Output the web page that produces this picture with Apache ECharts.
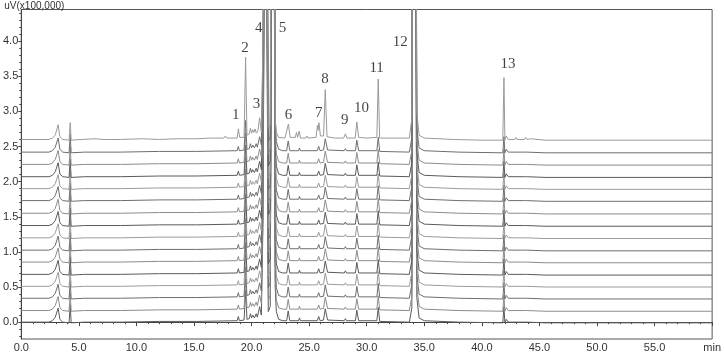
<!DOCTYPE html>
<html>
<head>
<meta charset="utf-8">
<script src="https://cdn.jsdelivr.net/npm/echarts@6.0.0/dist/echarts.min.js"></script>
<style>
  html, body { margin: 0; padding: 0; background: #fff; }
  #chromPic { width: 724px; height: 353px; }
</style>
</head>
<body>
<div id="chromPic"></div>
<script>
// tick labels
var yTicks = [0, 0.5, 1.0, 1.5, 2.0, 2.5, 3.0, 3.5, 4.0];
var yMinorTicks = [-0.2, -0.1, 0.1, 0.2, 0.3, 0.4, 0.6, 0.7, 0.8, 0.9, 1.1, 1.2, 1.3, 1.4,
  1.6, 1.7, 1.8, 1.9, 2.1, 2.2, 2.3, 2.4, 2.6, 2.7, 2.8, 2.9, 3.1, 3.2, 3.3, 3.4,
  3.6, 3.7, 3.8, 3.9, 4.1, 4.2, 4.3, 4.4];

// baseline of each run (x100,000 uV), bottom to top
var offsets = [0, 0.165, 0.34, 0.51, 0.68, 0.855, 1.025, 1.2, 1.375, 1.55, 1.73, 1.9, 2.07, 2.245, 2.42, 2.6];
var lineColors = ['#5a5a5a', '#8c8c8c', '#6e6e6e', '#9a9a9a'];

// reference run (top trace): [min, signal above baseline]
var refProfile = [
  [0, 0.0], [2.4, 0.0], [2.7, 0.02], [2.95, 0.06], [3.05, 0.04], [3.2, 0.21], [3.35, 0.04], [3.6, 0.0],
  [4.15, -0.01], [4.25, 0.24], [4.33, -0.01], [5.2, 0.0], [6.4, 0.01], [7.2, 0.0], [8.4, 0.0], [8.5, 0.02],
  [8.6, 0.0], [10.5, 0.01], [12.0, 0.0], [13.5, 0.01], [15.0, 0.01], [15.1, 0.03], [15.25, 0.01],
  [16.4, 0.02], [16.55, 0.04], [16.7, 0.02], [17.6, 0.02], [17.72, 0.05], [17.85, 0.02],
  [18.75, 0.02], [18.85, 0.15], [18.97, 0.03], [19.35, 0.03], [19.48, 1.17], [19.6, 0.06],
  [19.8, 0.08], [19.9, 0.16], [20.0, 0.09], [20.1, 0.14], [20.2, 0.1], [20.3, 0.15], [20.42, 0.09],
  [20.55, 0.12], [20.7, 0.31], [20.85, 0.1], [21.0, 1.5], [21.12, 6], [21.3, 6], [21.45, 0.16],
  [21.62, 0.2], [21.76, 6], [21.96, 6], [22.05, 0.3], [22.15, 0.1], [22.35, 0.03], [22.9, 0.02],
  [23.2, 0.22], [23.35, 0.03], [23.8, 0.03], [23.9, 0.1], [24.0, 0.03], [24.07, 0.04], [24.14, 0.12],
  [24.25, 0.02], [24.7, 0.02], [24.8, 0.05], [24.9, 0.02], [25.6, 0.03], [25.72, 0.2], [25.78, 0.13],
  [25.85, 0.24], [25.98, 0.05], [26.25, 0.05], [26.4, 0.71], [26.55, 0.04], [27.2, 0.02],
  [28.0, 0.02], [28.15, 0.08], [28.28, 0.02], [29.0, 0.02], [29.14, 0.25], [29.3, 0.03],
  [30.0, 0.02], [30.88, 0.03], [31.0, 0.86], [31.12, 0.02], [32.5, 0.02], [33.7, 0.02],
  [33.92, 0.3], [34.0, 6], [34.26, 6], [34.35, 0.4], [34.55, 0.06], [35.0, 0.02], [37.5, 0.0],
  [40.0, -0.01], [41.82, -0.01], [41.92, 0.88], [42.0, -0.01], [42.12, 0.05], [42.3, 0.0],
  [42.85, 0.0], [42.95, 0.03], [43.05, 0.0], [43.7, 0.0], [43.8, 0.03], [43.9, 0.0],
  [44.25, 0.01], [45.5, -0.01], [50.0, -0.01], [60.0, -0.01]
];

// sample runs (the fifteen lower traces)
var sampleProfile = [
  [0, 0.0], [2.4, 0.0], [2.7, 0.02], [2.95, 0.07], [3.05, 0.05], [3.2, 0.2], [3.35, 0.04], [3.6, 0.0],
  [4.15, -0.01], [4.25, 0.25], [4.33, -0.01], [5.5, 0.0], [8.4, 0.0], [8.5, 0.02], [8.6, 0.0],
  [12.0, 0.01], [15.0, 0.01], [15.1, 0.02], [15.2, 0.01], [18.75, 0.02], [18.85, 0.08],
  [18.95, 0.02], [19.35, 0.03], [19.48, 0.45], [19.6, 0.04], [19.8, 0.05], [19.9, 0.12],
  [20.0, 0.06], [20.1, 0.1], [20.25, 0.06], [20.4, 0.12], [20.5, 0.07], [20.7, 0.22],
  [20.85, 0.1], [21.0, 1.5], [21.12, 6], [21.3, 6], [21.45, 0.15], [21.62, 0.22], [21.76, 6],
  [21.96, 6], [22.05, 0.5], [22.15, 0.15], [22.35, 0.04], [22.7, 0.02], [23.05, 0.02],
  [23.18, 0.16], [23.32, 0.02], [23.85, 0.02], [23.9, 0.04], [24.0, 0.02], [24.1, 0.02],
  [24.15, 0.06], [24.25, 0.02], [25.7, 0.02], [25.83, 0.08], [25.95, 0.02], [26.25, 0.03],
  [26.4, 0.19], [26.6, 0.03], [28.05, 0.02], [28.15, 0.05], [28.25, 0.02], [29.02, 0.02],
  [29.14, 0.17], [29.3, 0.02], [30.88, 0.02], [31.0, 0.21], [31.13, 0.01], [33.7, 0.0],
  [33.92, 0.2], [34.0, 6], [34.26, 6], [34.35, 0.35], [34.55, 0.06], [35.0, 0.02], [38.0, 0.0],
  [41.82, -0.01], [41.92, 0.22], [42.0, -0.01], [42.12, 0.04], [42.3, 0.0], [43.7, 0.0],
  [43.8, 0.02], [43.9, 0.0], [45.5, -0.01], [60.0, -0.01]
];

// peak numbers and where they are written
var peakNames = ['1', '2', '3', '4', '5', '6', '7', '8', '9', '10', '11', '12', '13'];
var peakLabelPos = [
  [18.63, 2.95], [19.43, 3.9], [20.43, 3.11], [20.63, 4.18], [22.69, 4.19], [23.2, 2.95],
  [25.83, 2.98], [26.37, 3.46], [28.09, 2.87], [29.55, 3.05], [30.86, 3.61], [32.92, 3.99],
  [42.27, 3.67]
];

var myChart = echarts.init(document.getElementById('chromPic'));

var series = [];
for (var i = 0; i < offsets.length; i++) {
  var prof = (i == offsets.length - 1) ? refProfile : sampleProfile;
  var pts = [];
  for (var k = 0; k < prof.length; k++) {
    pts.push([prof[k][0], prof[k][1] + offsets[i]]);
  }
  series.push({
    type: 'line',
    data: pts,
    showSymbol: false,
    silent: true,
    lineStyle: { width: 1, color: lineColors[i % lineColors.length] },
    clip: true
  });
}

var labelData = [];
for (var j = 0; j < peakNames.length; j++) {
  labelData.push({ name: peakNames[j], value: peakLabelPos[j] });
}
series.push({
  type: 'scatter',
  data: labelData,
  symbolSize: 1,
  silent: true,
  itemStyle: { color: 'rgba(0,0,0,0)' },
  label: {
    show: true,
    position: 'inside',
    formatter: '{b}',
    color: '#111',
    fontFamily: 'Liberation Serif',
    fontSize: 15
  }
});

var axisText = { color: '#333', fontFamily: 'Liberation Sans', fontSize: 11 };

option = {
  animation: false,
  grid: {
    left: 19.5, right: 4.5, top: 9.5, bottom: 13,
    show: true, borderColor: '#555', borderWidth: 1, backgroundColor: 'transparent'
  },
  xAxis: {
    type: 'value',
    min: 0, max: 60, interval: 5,
    axisLine: { lineStyle: { color: '#444' } },
    axisTick: { show: true, length: 4, lineStyle: { color: '#444' } },
    minorTick: { show: true, splitNumber: 5, length: 2, lineStyle: { color: '#444' } },
    splitLine: { show: false },
    axisLabel: Object.assign({
      margin: 3,
      showMaxLabel: true,
      formatter: function (v) { return v == 60 ? 'min' : v.toFixed(1); }
    }, axisText)
  },
  yAxis: [
    {
      type: 'value',
      min: -0.24, max: 4.45,
      name: 'uV(x100,000)',
      nameLocation: 'end',
      nameGap: -2,
      nameTextStyle: { color: '#333', fontFamily: 'Liberation Sans', fontSize: 10, align: 'left', padding: [0, 0, 0, -17] },
      axisLine: { show: true, lineStyle: { color: '#444' } },
      axisTick: { show: true, length: 3, customValues: yTicks, lineStyle: { color: '#444' } },
      splitLine: { show: false },
      axisLabel: Object.assign({
        margin: 3,
        customValues: yTicks,
        formatter: function (v) { return v.toFixed(1); }
      }, axisText)
    },
    {
      type: 'value',
      min: -0.24, max: 4.45,
      position: 'left',
      axisLine: { show: false },
      axisTick: { show: true, length: 2, customValues: yMinorTicks, lineStyle: { color: '#444' } },
      axisLabel: { show: false },
      splitLine: { show: false }
    }
  ],
  series: series
};

myChart.setOption(option);
window.addEventListener('resize', function () {
  myChart.resize();
});
</script>
</body>
</html>
